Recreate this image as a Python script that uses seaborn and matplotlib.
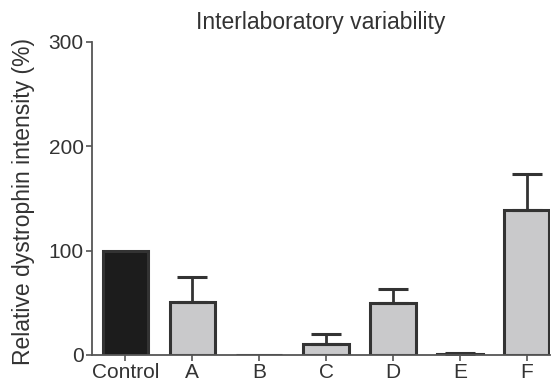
import numpy as np
import pandas as pd
import seaborn as sns
from matplotlib import pyplot as plt

# values
labs = ["Control", "A", "B", "C", "D", "E", "F"]
intensity = [100, 51, 0, 10.5, 50, 1, 139]
err_up = [0, 23.5, 0, 9.5, 13, 1, 34]
bar_colors = ["#1c1c1c", "#c9c9cb", "#c9c9cb", "#c9c9cb", "#c9c9cb", "#c9c9cb", "#c9c9cb"]

plt.rcParams["font.family"] = ["Liberation Sans", "DejaVu Sans"]
text_col = "#333333"

df = pd.DataFrame({"lab": labs, "intensity": intensity})

fig = plt.figure(figsize=(5.54, 3.85), dpi=100)
ax = fig.add_axes([0.166, 0.078, 0.827, 0.813])

sns.barplot(
    data=df, x="lab", y="intensity", hue="lab", palette=bar_colors,
    legend=False, width=0.68, edgecolor="#333333", linewidth=2.2,
    errorbar=None, ax=ax,
)

# one-sided (upward) error bars, skip the control
x = np.arange(len(labs))
mask = np.array(err_up) > 0
ax.errorbar(
    x[mask], np.array(intensity)[mask],
    yerr=[np.zeros(mask.sum()), np.array(err_up)[mask]],
    fmt="none", ecolor="#333333", elinewidth=2, capsize=11, capthick=2.2,
    zorder=1,
)

ax.set_ylim(0, 300)
ax.set_xlim(-0.5, 6.35)
ax.set_yticks([0, 100, 200, 300])
ax.set_xlabel("")
ax.set_ylabel("Relative dystrophin intensity (%)", fontsize=16.5, color=text_col)
ax.yaxis.set_label_coords(-0.125, 0.49)
ax.set_title("Interlaboratory variability", fontsize=16.5, color=text_col, pad=9)

sns.despine(ax=ax)
for side in ["left", "bottom"]:
    ax.spines[side].set_color("#555555")
    ax.spines[side].set_linewidth(1.3)
ax.tick_params(axis="both", colors="#555555", labelcolor=text_col, labelsize=15,
               length=4, width=1.2, pad=2)

fig.savefig("out.png", dpi=100)
